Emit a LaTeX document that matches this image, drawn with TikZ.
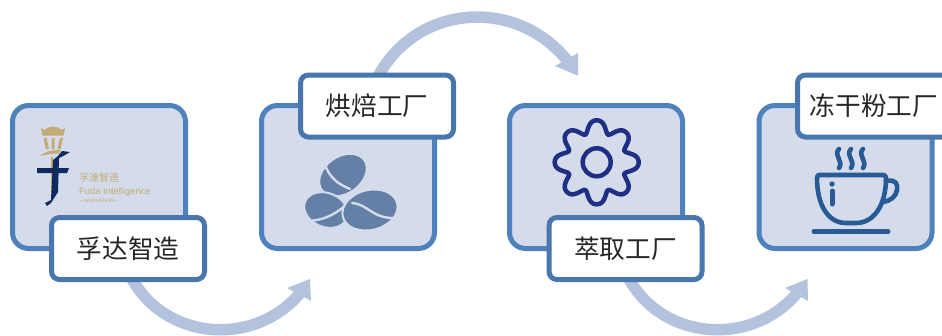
\documentclass[tikz,border=0pt]{standalone}
\usepackage{fontspec}
\usetikzlibrary{arrows.meta}
\newfontfamily\cjk{Noto Sans CJK SC}
\setmainfont{Liberation Sans}
\definecolor{boxfill}{HTML}{D4DBEA}
\definecolor{boxline}{HTML}{4F81BD}
\definecolor{labline}{HTML}{4A76AE}
\definecolor{arcblue}{HTML}{B3C3DD}
\definecolor{beanblue}{HTML}{6580A6}
\definecolor{gearblue}{HTML}{1F2F86}
\definecolor{cupblue}{HTML}{285A96}
\definecolor{logogold}{HTML}{C4AB76}
\definecolor{logonavy}{HTML}{0F2A5F}
\tikzset{
  panelbox/.style={draw=boxline,fill=boxfill,line width=5pt,rounded corners=16pt,minimum width=173pt,minimum height=143pt,inner sep=0pt,outer sep=0pt},
  tagbox/.style={draw=labline,fill=white,line width=5pt,rounded corners=8pt,minimum width=153pt,minimum height=62pt,inner sep=0pt,outer sep=0pt,font=\cjk\fontsize{25.7pt}{28pt}\selectfont,text=black!85},
  arcarrow/.style={draw=arcblue,line width=11.5pt},
  archead/.style={fill=arcblue},
  gearline/.style={draw=gearblue,line width=4.5pt},
  cupline/.style={draw=cupblue,line width=4.6pt,line cap=round,line join=round},
  creaseline/.style={draw=boxfill,line width=2.4pt,line cap=round},
  beanshape/.style={fill=beanblue,draw=boxfill,line width=2pt},
  logotext/.style={text=logogold,inner sep=0pt}
}
\begin{document}
\begin{tikzpicture}[x=1pt,y=-1pt]
\useasboundingbox (0,0) rectangle (942,335);
\clip (0,0) rectangle (942,335);
% panels
\node[panelbox] (p1) at (99,177) {};
\node[panelbox] (p2) at (348,177) {};
\node[panelbox] (p3) at (596,177) {};
\node[panelbox] (p4) at (845.5,177) {};
% curved arrows
\coordinate (a1s) at (128.5,272);
\coordinate (a1e) at (301,292);
\coordinate (a1t) at (310,279);
\coordinate (a2s) at (376.5,79.5);
\coordinate (a2e) at (568,61.5);
\coordinate (a2t) at (578,75.7);
\coordinate (a3s) at (625.5,272);
\coordinate (a3e) at (798,292);
\coordinate (a3t) at (807.5,279);
\draw[arcarrow] (a1s) .. controls (159.7,339.8) and (253.5,349.7) .. (a1e);
\fill[archead] (a1t) -- (287,288) -- (311,301) -- cycle;
\draw[arcarrow] (a2s) .. controls (414.2,4.2) and (515.9,-4.5) .. (a2e);
\fill[archead] (a2t) -- (555,66) -- (578,53) -- cycle;
\draw[arcarrow] (a3s) .. controls (656.7,339.8) and (750.5,349.7) .. (a3e);
\fill[archead] (a3t) -- (785,288) -- (808,301) -- cycle;
% labels
\node[tagbox] (l1) at (128,248.5) {孚达智造};
\node[tagbox] (l2) at (377,106) {烘焙工厂};
\node[tagbox] (l3) at (625.5,248.5) {萃取工厂};
\node[tagbox] (l4) at (874,106) {冻干粉工厂};
% logo
\fill[logogold] (41,128) -- (44.5,130) -- (48,127.5) -- (53,126.5) -- (58,127.5) -- (61.5,130) -- (65,128) -- (63.5,135.5) -- (42.5,135.5) -- cycle;
\draw[logogold,line width=3pt] (45,138) -- (47.5,149) (53,138) -- (53,149) (61.5,138) -- (59,149);
\fill[logogold] (40,156) .. controls (46,151) and (52,150) .. (61,150) -- (59,153.5) .. controls (52,153.5) and (47,154.5) .. (40,156) -- cycle;
\draw[logogold,line width=1.5pt] (52,157) -- (52,197);
\fill[logonavy] (53,160) -- (58,156) -- (62,151) -- (70,152) -- (65,155) -- (59,158) -- (58,192) -- (51,203) -- (47,206) -- (45,203) -- (51,200) -- cycle;
\fill[logonavy] (37,168) -- (69,168) -- (67,173) -- (37,173) -- cycle;
\node[logotext,anchor=west] (lg1) at (79,178) {\cjk\fontsize{10pt}{11pt}\selectfont 孚達智造};
\node[logotext,anchor=west] (lg2) at (79,192) {\fontsize{9.4pt}{10pt}\selectfont Fuda Intelligence};
\node[logotext,anchor=west] (lg3) at (80,200.5) {\fontsize{5pt}{6pt}\selectfont • INNOVATION •};
% beans
\path[beanshape,rotate around={35:(343,175)}] (343,175) ellipse [x radius=26pt,y radius=18.5pt];
\draw[creaseline] (325,165) .. controls (330,178) and (338,184) .. (350,189);
\path[beanshape,rotate around={-22:(326,210)}] (326,210) ellipse [x radius=22.5pt,y radius=17pt];
\draw[creaseline] (306,221) .. controls (322,221) and (335,215) .. (347,204);
\path[beanshape,rotate around={14:(370,210)}] (370,210) ellipse [x radius=28pt,y radius=20pt];
\draw[creaseline] (352,203) .. controls (368,204) and (372,219) .. (396,218);
% gear
\draw[gearline] (596.7,162.3) circle [radius=14pt];
\draw[gearline] plot[domain=0:360,samples=161,smooth] ({596.7+(36.9+6*cos(8*\x)-0.9*cos(16*\x))*cos(\x+90)},{162.3+(36.9+6*cos(8*\x)-0.9*cos(16*\x))*sin(\x+90)}) -- cycle;
% cup
\draw[cupline] (819,175) -- (883,175) .. controls (885,175) and (886,176) .. (886,178) .. controls (886,205) and (874,223) .. (856,223) -- (846,223) .. controls (828,223) and (817,205) .. (817,178) .. controls (817,176) and (818,175) .. (819,175) -- cycle;
\draw[cupline] (886,181) .. controls (896,179) and (898,184) .. (897,190) .. controls (896,197) and (890,201) .. (883,202);
\draw[cupline,line width=5pt] (814,231.5) -- (888,231.5);
\draw[cupline,line width=5pt] (832,191) -- (832,204);
\fill[cupblue] (832,184) circle [radius=2.7pt];
\foreach \sx in {839,851,863}{
  \draw[cupline] (\sx,149) .. controls (\sx-6,155) and (\sx+5,161) .. (\sx,168);
}
\end{tikzpicture}
\end{document}
